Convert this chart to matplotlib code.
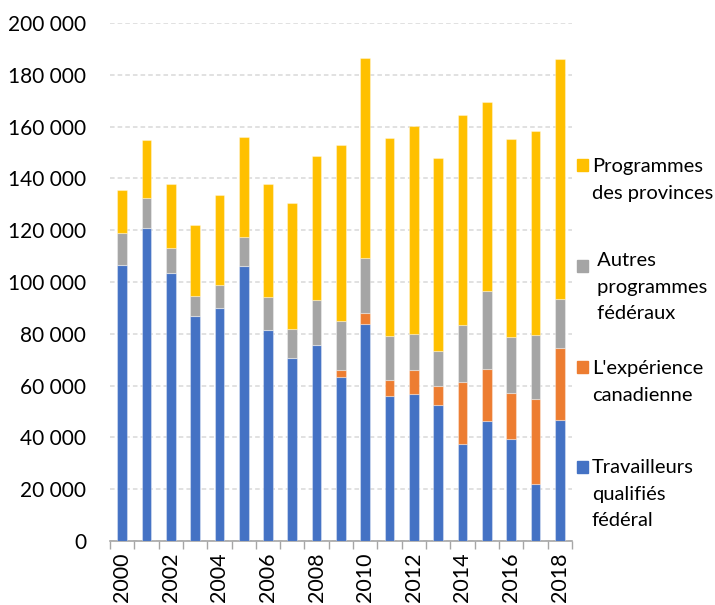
import matplotlib.pyplot as plt
import matplotlib.patches as mpatches
import numpy as np

plt.rcParams["font.family"] = ["Lato", "DejaVu Sans"]

years = list(range(2000, 2019))

# values (number of admissions)
travailleurs = [106600, 120800, 103500, 86900, 90000, 106200, 81500, 70700, 75600, 63300,
                83900, 56000, 56900, 52600, 37500, 46400, 39300, 22100, 46800]
experience = [0, 0, 0, 0, 0, 0, 0, 0, 0, 2700,
              4000, 6000, 9300, 7300, 23900, 19900, 17900, 32800, 27800]
autres = [12300, 11700, 9600, 7700, 8800, 11200, 12800, 11300, 17500, 18800,
          21200, 17200, 13600, 13400, 21900, 30400, 21700, 24700, 19000]
provinces = [16800, 22500, 24700, 27500, 35000, 38600, 43600, 48700, 55500, 68300,
             77500, 76300, 80500, 74600, 81400, 73000, 76500, 78900, 92400]

series = [
    ("Travailleurs\nqualifiés\nfédéral", travailleurs, "#4472C4"),
    ("L'expérience\ncanadienne", experience, "#ED7D31"),
    (" Autres\n programmes\n fédéraux", autres, "#A5A5A5"),
    ("Programmes\ndes provinces", provinces, "#FFC000"),
]

fig = plt.figure(figsize=(7.15, 6.05), dpi=100)
ax = fig.add_axes([0.1538, 0.1058, 0.646, 0.856])

x = np.arange(len(years))
bottom = np.zeros(len(years))
for name, vals, color in series:
    vals = np.array(vals, dtype=float)
    ax.bar(x, vals, width=0.4, bottom=bottom, color=color,
           edgecolor=(1, 1, 1, 0.35), linewidth=0.8, zorder=3)
    bottom += vals

ax.set_ylim(0, 200000)
ax.set_xlim(-0.5, len(years) - 0.5)
ax.set_yticks(np.arange(0, 200001, 20000))
ax.set_yticklabels([f"{v:,}".replace(",", " ") for v in range(0, 200001, 20000)], fontsize=15)
ax.yaxis.grid(True, color="#D9D9D9", linestyle=(0, (3, 2)), linewidth=1.1, zorder=0)
ax.tick_params(axis="y", length=0, pad=17)

ax.set_xticks(x[::2])
ax.set_xticklabels([str(y) for y in years[::2]], rotation=90, fontsize=15.5)
ax.set_xticks(np.arange(-0.5, len(years)), minor=True)
ax.tick_params(axis="x", which="major", length=0, pad=8)
ax.tick_params(axis="x", which="minor", length=6, width=1, color="#A6A6A6")

for s in ["top", "right", "left"]:
    ax.spines[s].set_visible(False)
ax.spines["bottom"].set_color("#A6A6A6")
ax.spines["bottom"].set_linewidth(1.2)

# legend drawn by hand, top entry first (Excel style)
square_y = [165, 266, 367, 467]
text_y = [165, 259, 367, 466]
for (name, vals, color), sy, ty in zip(series[::-1], square_y, text_y):
    fig.patches.append(mpatches.Rectangle((577 / 715, 1 - (sy + 6) / 605), 11 / 715, 12 / 605,
                                          transform=fig.transFigure, color=color))
    fig.text(592 / 715, 1 - (ty - 7) / 605, name, fontsize=14.5, va="top", ha="left",
             linespacing=1.68)

fig.savefig("out.png", dpi=100)
